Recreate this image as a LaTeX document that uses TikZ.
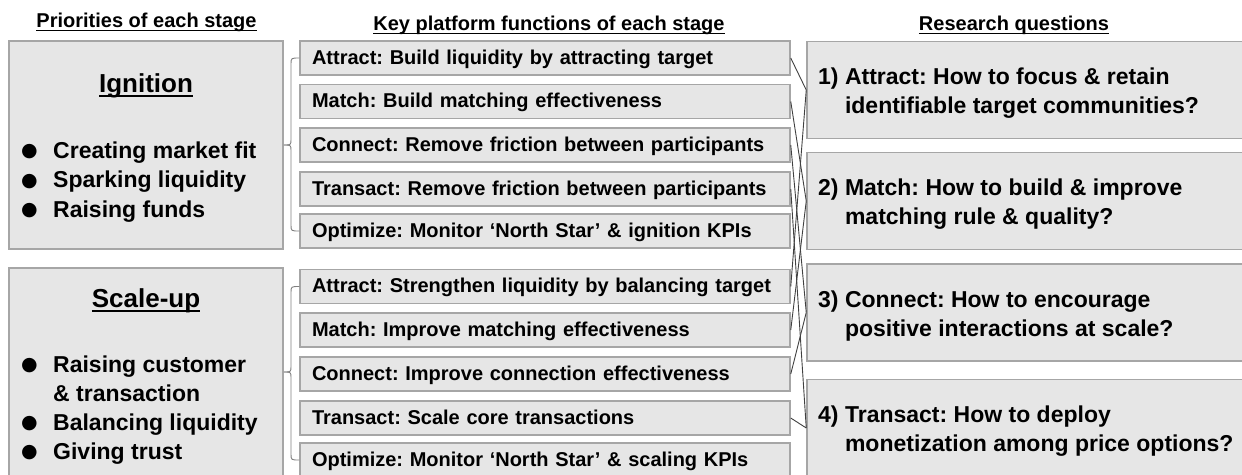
\documentclass[tikz,border=0pt]{standalone}
\usepackage{fontspec}
\setmainfont{Liberation Sans}
\newfontfamily\symfont{DejaVu Sans}
\definecolor{boxfill}{HTML}{E6E6E6}
\definecolor{boxdraw}{HTML}{A6A6A6}
\definecolor{linkcol}{HTML}{404040}
\definecolor{bracecol}{HTML}{808080}
\frenchspacing
\newcommand\myul[1]{\sbox0{#1}\rlap{\rule[-0.2em]{\wd0}{0.07em}}\usebox0}
\newcommand\bitem{\makebox[33pt][l]{\hspace{1pt}\raisebox{1.5pt}{\symfont\fontsize{19}{19}\selectfont ●}}}
\begin{document}
\begin{tikzpicture}[x=1pt,y=-1pt,
  fbox/.style={draw=boxdraw, fill=boxfill, line width=1.5pt, inner sep=0pt},
  midbox/.style={fbox, minimum width=490pt, minimum height=34pt, text width=466pt,
    inner xsep=12pt, inner ysep=0pt, text height=15pt, text depth=3pt, align=left,
    font=\fontsize{20}{24}\selectfont\bfseries},
  qbox/.style={fbox, minimum width=455pt, minimum height=97pt},
  stagebox/.style={fbox, minimum width=274pt, minimum height=208pt},
  header/.style={inner sep=0pt, anchor=base, font=\fontsize{20}{24}\selectfont\bfseries},
  stitle/.style={inner sep=0pt, anchor=base, font=\fontsize{26}{30}\selectfont\bfseries},
  bullets/.style={inner sep=0pt, anchor=base west, font=\fontsize{23}{29.5}\selectfont\bfseries},
  qtext/.style={inner sep=0pt, anchor=base west, font=\fontsize{23}{29}\selectfont\bfseries},
  link/.style={draw=linkcol, line width=0.9pt},
  brace/.style={draw=bracecol, line width=0.9pt}
]
\useasboundingbox (0,0) rectangle (1242,474);
\clip (0,0) rectangle (1242,474);

% headers
\node[header] (h1) at (146.5,27) {\myul{Priorities of each stage}};
\node[header] (h2) at (549,30) {\myul{Key platform functions of each stage}};
\node[header] (h3) at (1014,30) {\myul{Research questions}};

% stage boxes
\node[stagebox] (ign) at (146,145) {};
\node[stagebox] (sca) at (146,372) {};
\node[stitle] (ignt) at (146,92) {\myul{Ignition}};
\node[stitle] (scat) at (146,307) {\myul{Scale-up}};
\node[bullets] (ignb) at (20,158) {\begin{tabular}[t]{@{}l@{}}\bitem Creating market fit\\ \bitem Sparking liquidity\\ \bitem Raising funds\end{tabular}};
\node[bullets, font=\fontsize{23}{29}\selectfont\bfseries] (scab) at (20,372) {\begin{tabular}[t]{@{}l@{}}\bitem Raising customer\\ \makebox[33pt]{}\& transaction\\ \bitem Balancing liquidity\\ \bitem Giving trust\end{tabular}};

% function boxes, ignition
\node[midbox] (a1) at (545,58) {Attract: Build liquidity by attracting target};
\node[midbox] (a2) at (545,101.5) {Match: Build matching effectiveness};
\node[midbox] (a3) at (545,145) {Connect: Remove friction between participants};
\node[midbox] (a4) at (545,189) {Transact: Remove friction between participants};
\node[midbox] (a5) at (545,231) {Optimize: Monitor ‘North Star’ \& ignition KPIs};
% function boxes, scale-up
\node[midbox] (b1) at (545,286.5) {Attract: Strengthen liquidity by balancing target};
\node[midbox] (b2) at (545,330) {Match: Improve matching effectiveness};
\node[midbox] (b3) at (545,374) {Connect: Improve connection effectiveness};
\node[midbox] (b4) at (545,418) {Transact: Scale core transactions};
\node[midbox] (b5) at (545,460) {Optimize: Monitor ‘North Star’ \& scaling KPIs};

% question boxes
\node[qbox] (q1) at (1034.5,90) {};
\node[qbox] (q2) at (1034.5,201) {};
\node[qbox] (q3) at (1034.5,312.5) {};
\node[qbox] (q4) at (1034.5,428) {};
\node[qtext] (q1t) at (818,84) {\begin{tabular}[t]{@{}l@{\ }l@{}}1) & Attract: How to focus \& retain\\ & identifiable target communities?\end{tabular}};
\node[qtext] (q2t) at (818,195) {\begin{tabular}[t]{@{}l@{\ }l@{}}2) & Match: How to build \& improve\\ & matching rule \& quality?\end{tabular}};
\node[qtext] (q3t) at (818,307) {\begin{tabular}[t]{@{}l@{\ }l@{}}3) & Connect: How to encourage\\ & positive interactions at scale?\end{tabular}};
\node[qtext] (q4t) at (818,422) {\begin{tabular}[t]{@{}l@{\ }l@{}}4) & Transact: How to deploy\\ & monetization among price options?\end{tabular}};

% braces
\draw[brace] (a1.west) .. controls (291,58) .. (291,64) -- (291,139) .. controls (291,145) .. (ign.east);
\draw[brace] (a5.west) .. controls (291,231) .. (291,225) -- (291,151) .. controls (291,145) .. (ign.east);
\draw[brace] (b1.west) .. controls (291,286.5) .. (291,292.5) -- (291,366) .. controls (291,372) .. (sca.east);
\draw[brace] (b5.west) .. controls (291,460) .. (291,454) -- (291,378) .. controls (291,372) .. (sca.east);

% links
\draw[link] (a1.east) -- (q1.west);
\draw[link] (a2.east) -- (q2.west);
\draw[link] (a3.east) -- (q3.west);
\draw[link] (a4.east) -- (q4.west);
\draw[link] (b1.east) -- (q1.west);
\draw[link] (b2.east) -- (q2.west);
\draw[link] (b3.east) -- (q3.west);
\draw[link] (b4.east) -- (q4.west);
\end{tikzpicture}
\end{document}
